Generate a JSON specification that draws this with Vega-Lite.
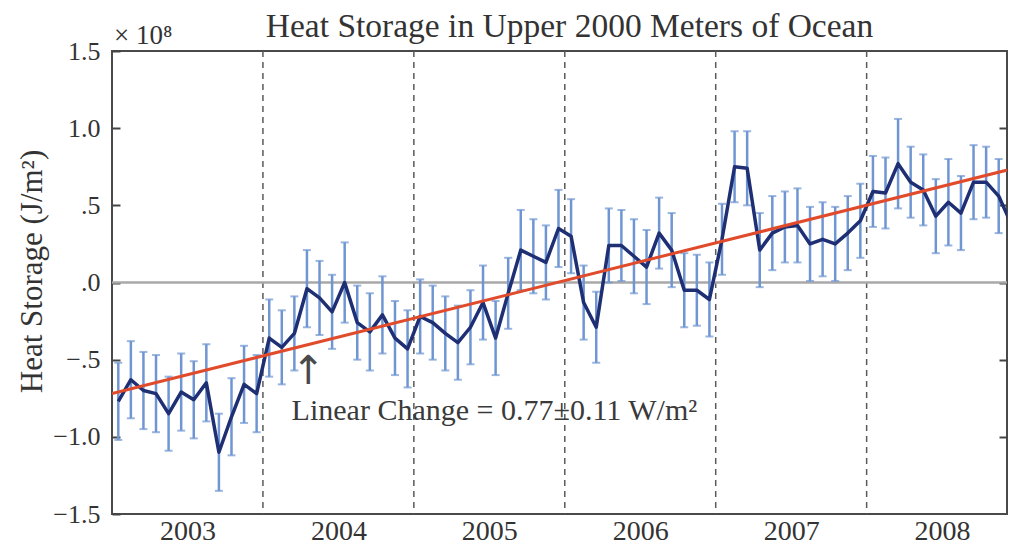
{
  "$schema": "https://vega.github.io/schema/vega-lite/v6.json",
  "width": 895,
  "height": 463,
  "autosize": "none",
  "padding": {"left": 112, "top": 51, "right": 2, "bottom": 33},
  "background": "white",
  "config": {
    "view": {"stroke": "#4a4a4a", "strokeWidth": 2},
    "font": "Liberation Serif"
  },
  "title": {
    "text": "Heat Storage in Upper 2000 Meters of Ocean",
    "font": "Liberation Serif",
    "fontSize": 33.5,
    "fontWeight": "normal",
    "color": "#333333",
    "anchor": "middle",
    "frame": "group",
    "offset": -22,
    "dx": 10
  },
  "datasets": {
    "monthly": [
      {"t": 2003.0417, "heat": -0.77, "err": 0.25},
      {"t": 2003.125, "heat": -0.63, "err": 0.25},
      {"t": 2003.2083, "heat": -0.70, "err": 0.25},
      {"t": 2003.2917, "heat": -0.72, "err": 0.25},
      {"t": 2003.375, "heat": -0.85, "err": 0.24},
      {"t": 2003.4583, "heat": -0.71, "err": 0.25},
      {"t": 2003.5417, "heat": -0.76, "err": 0.25},
      {"t": 2003.625, "heat": -0.65, "err": 0.25},
      {"t": 2003.7083, "heat": -1.10, "err": 0.25},
      {"t": 2003.7917, "heat": -0.87, "err": 0.25},
      {"t": 2003.875, "heat": -0.66, "err": 0.25},
      {"t": 2003.9583, "heat": -0.72, "err": 0.25},
      {"t": 2004.0417, "heat": -0.36, "err": 0.25},
      {"t": 2004.125, "heat": -0.42, "err": 0.24},
      {"t": 2004.2083, "heat": -0.33, "err": 0.24},
      {"t": 2004.2917, "heat": -0.04, "err": 0.25},
      {"t": 2004.375, "heat": -0.10, "err": 0.24},
      {"t": 2004.4583, "heat": -0.19, "err": 0.24},
      {"t": 2004.5417, "heat": 0.0, "err": 0.26},
      {"t": 2004.625, "heat": -0.26, "err": 0.24},
      {"t": 2004.7083, "heat": -0.32, "err": 0.25},
      {"t": 2004.7917, "heat": -0.21, "err": 0.25},
      {"t": 2004.875, "heat": -0.36, "err": 0.24},
      {"t": 2004.9583, "heat": -0.43, "err": 0.25},
      {"t": 2005.0417, "heat": -0.22, "err": 0.24},
      {"t": 2005.125, "heat": -0.26, "err": 0.24},
      {"t": 2005.2083, "heat": -0.33, "err": 0.24},
      {"t": 2005.2917, "heat": -0.39, "err": 0.24},
      {"t": 2005.375, "heat": -0.29, "err": 0.24},
      {"t": 2005.4583, "heat": -0.13, "err": 0.24},
      {"t": 2005.5417, "heat": -0.36, "err": 0.24},
      {"t": 2005.625, "heat": -0.07, "err": 0.23},
      {"t": 2005.7083, "heat": 0.21, "err": 0.26},
      {"t": 2005.7917, "heat": 0.17, "err": 0.24},
      {"t": 2005.875, "heat": 0.13, "err": 0.24},
      {"t": 2005.9583, "heat": 0.35, "err": 0.25},
      {"t": 2006.0417, "heat": 0.30, "err": 0.24},
      {"t": 2006.125, "heat": -0.13, "err": 0.24},
      {"t": 2006.2083, "heat": -0.29, "err": 0.23},
      {"t": 2006.2917, "heat": 0.24, "err": 0.24},
      {"t": 2006.375, "heat": 0.24, "err": 0.23},
      {"t": 2006.4583, "heat": 0.17, "err": 0.24},
      {"t": 2006.5417, "heat": 0.10, "err": 0.24},
      {"t": 2006.625, "heat": 0.32, "err": 0.23},
      {"t": 2006.7083, "heat": 0.21, "err": 0.24},
      {"t": 2006.7917, "heat": -0.05, "err": 0.24},
      {"t": 2006.875, "heat": -0.05, "err": 0.23},
      {"t": 2006.9583, "heat": -0.11, "err": 0.24},
      {"t": 2007.0417, "heat": 0.28, "err": 0.23},
      {"t": 2007.125, "heat": 0.75, "err": 0.23},
      {"t": 2007.2083, "heat": 0.74, "err": 0.24},
      {"t": 2007.2917, "heat": 0.21, "err": 0.24},
      {"t": 2007.375, "heat": 0.32, "err": 0.24},
      {"t": 2007.4583, "heat": 0.36, "err": 0.23},
      {"t": 2007.5417, "heat": 0.37, "err": 0.24},
      {"t": 2007.625, "heat": 0.25, "err": 0.24},
      {"t": 2007.7083, "heat": 0.28, "err": 0.24},
      {"t": 2007.7917, "heat": 0.25, "err": 0.24},
      {"t": 2007.875, "heat": 0.32, "err": 0.24},
      {"t": 2007.9583, "heat": 0.40, "err": 0.24},
      {"t": 2008.0417, "heat": 0.59, "err": 0.23},
      {"t": 2008.125, "heat": 0.58, "err": 0.23},
      {"t": 2008.2083, "heat": 0.77, "err": 0.29},
      {"t": 2008.2917, "heat": 0.65, "err": 0.23},
      {"t": 2008.375, "heat": 0.60, "err": 0.23},
      {"t": 2008.4583, "heat": 0.43, "err": 0.24},
      {"t": 2008.5417, "heat": 0.52, "err": 0.28},
      {"t": 2008.625, "heat": 0.45, "err": 0.24},
      {"t": 2008.7083, "heat": 0.65, "err": 0.24},
      {"t": 2008.7917, "heat": 0.65, "err": 0.23},
      {"t": 2008.875, "heat": 0.56, "err": 0.24},
      {"t": 2008.9583, "heat": 0.38, "err": 0.24}
    ]
  },
  "resolve": {"axis": {"y": "independent"}},
  "layer": [
    {
      "data": {"values": [{"b": 2004}, {"b": 2005}, {"b": 2006}, {"b": 2007}, {"b": 2008}]},
      "mark": {"type": "rule", "color": "#5a5a5a", "strokeWidth": 1.5, "strokeDash": [6, 5]},
      "encoding": {
        "x": {"field": "b", "type": "quantitative", "scale": {"domain": [2003, 2008.93], "nice": false, "zero": false}}
      }
    },
    {
      "data": {"values": [{"ref": 0}]},
      "mark": {"type": "rule", "color": "#a8a8a8", "strokeWidth": 2.5},
      "encoding": {
        "y": {
          "field": "ref",
          "type": "quantitative",
          "scale": {"domain": [-1.5, 1.5], "nice": false, "zero": false},
          "axis": {
            "orient": "right",
            "title": null,
            "labels": false,
            "domain": false,
            "grid": false,
            "values": [-1, -0.5, 0, 0.5, 1],
            "tickSize": -8,
            "tickWidth": 2,
            "tickColor": "#444444"
          }
        }
      }
    },
    {
      "data": {"name": "monthly"},
      "mark": {
        "type": "errorbar",
        "clip": true,
        "color": "#6f96d2",
        "thickness": 2.5,
        "ticks": {"size": 8, "thickness": 2, "color": "#6f96d2"}
      },
      "encoding": {
        "x": {"field": "t", "type": "quantitative"},
        "y": {"field": "heat", "type": "quantitative", "axis": null},
        "yError": {"field": "err"}
      }
    },
    {
      "data": {"name": "monthly"},
      "mark": {"type": "line", "clip": true, "color": "#1f2f73", "strokeWidth": 3.5, "strokeJoin": "round"},
      "encoding": {
        "x": {
          "field": "t",
          "type": "quantitative",
          "axis": {
            "title": null,
            "values": [2003.5, 2004.5, 2005.5, 2006.5, 2007.5, 2008.5],
            "labelExpr": "'' + floor(datum.value)",
            "labelFont": "Liberation Serif",
            "labelFontSize": 28,
            "labelColor": "#333333",
            "labelPadding": 3,
            "labelFlush": false,
            "labelOverlap": false,
            "ticks": false,
            "domain": false,
            "grid": false
          }
        },
        "y": {
          "field": "heat",
          "type": "quantitative",
          "axis": {
            "title": "Heat Storage (J/m²)",
            "titleFont": "Liberation Serif",
            "titleFontSize": 31,
            "titleFontWeight": "normal",
            "titleColor": "#333333",
            "titlePadding": 4,
            "titleY": 220,
            "values": [-1.5, -1, -0.5, 0, 0.5, 1, 1.5],
            "labelExpr": "datum.value == 0 ? '.0' : (abs(datum.value) < 1 ? (datum.value < 0 ? '−.5' : '.5') : (datum.value < 0 ? '−' : '') + format(abs(datum.value), '.1f'))",
            "labelFont": "Liberation Serif",
            "labelFontSize": 26,
            "labelColor": "#333333",
            "labelPadding": 20,
            "labelFlush": false,
            "labelOverlap": false,
            "tickSize": -8,
            "tickWidth": 2,
            "tickColor": "#444444",
            "domain": false,
            "grid": false
          }
        }
      }
    },
    {
      "data": {"values": [{"t": 2003, "fit": -0.72}, {"t": 2009, "fit": 0.745}]},
      "mark": {"type": "line", "clip": true, "color": "#e04b2c", "strokeWidth": 3},
      "encoding": {
        "x": {"field": "t", "type": "quantitative"},
        "y": {"field": "fit", "type": "quantitative", "axis": null}
      }
    },
    {
      "data": {"values": [{"t": 2004.19, "v": -0.83, "label": "Linear Change = 0.77±0.11 W/m²"}]},
      "mark": {"type": "text", "align": "left", "baseline": "middle", "font": "Liberation Serif", "fontSize": 30, "color": "#3a3a3a"},
      "encoding": {
        "x": {"field": "t", "type": "quantitative"},
        "y": {"field": "v", "type": "quantitative", "axis": null},
        "text": {"field": "label"}
      }
    },
    {
      "data": {"values": [{"t": 2004.30, "v": -0.58, "label": "↑"}]},
      "mark": {"type": "text", "align": "center", "baseline": "middle", "font": "DejaVu Sans", "fontSize": 40, "color": "#4a4a4a"},
      "encoding": {
        "x": {"field": "t", "type": "quantitative"},
        "y": {"field": "v", "type": "quantitative", "axis": null},
        "text": {"field": "label"}
      }
    },
    {
      "data": {"values": [{"t": 2003, "v": 1.5, "label": "× 10⁸"}]},
      "mark": {"type": "text", "align": "left", "baseline": "alphabetic", "dy": -7, "dx": 2, "font": "Liberation Serif", "fontSize": 27, "color": "#333333"},
      "encoding": {
        "x": {"field": "t", "type": "quantitative"},
        "y": {"field": "v", "type": "quantitative", "axis": null},
        "text": {"field": "label"}
      }
    }
  ]
}
